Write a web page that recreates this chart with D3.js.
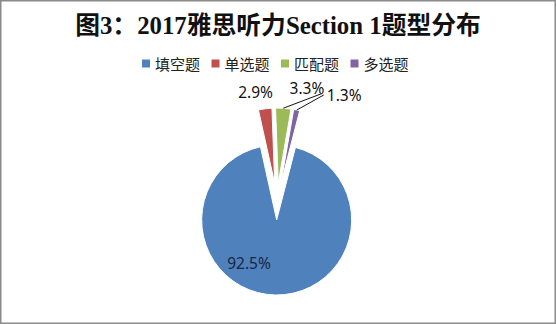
<!DOCTYPE html>
<html>
<head>
<meta charset="utf-8">
<script src="https://cdn.jsdelivr.net/npm/d3@7"></script>
<style>
  html, body { margin: 0; padding: 0; background: #fff; }
  svg { display: block; }
</style>
</head>
<body>
<div id="chartdiv"></div>
<script>
// data
var categories = ["填空题", "单选题", "匹配题", "多选题"];
var values = [92.5, 2.9, 3.3, 1.3];
var colors = ["#4F81BD", "#C0504D", "#9BBB59", "#8064A2"];
var titleText = "图3：2017雅思听力Section 1题型分布";

// layout
var W = 556, H = 324;
var cx = 277, cy = 201.5, radius = 75, explode = 18.5;
var startDeg = 14.5;
var labelRadius = 110;
// nudges for the data labels (Excel moved them around by hand)
var labelShift = [[-27, 6], [-7.5, 0], [22.5, -4], [44, 1]];
var leaderFor = [false, false, true, true];

var svg = d3.select("#chartdiv").append("svg")
    .attr("width", W)
    .attr("height", H);

svg.append("rect")
    .attr("x", 0.75).attr("y", 0.75)
    .attr("width", W - 1.5).attr("height", H - 1.5)
    .attr("fill", "#fff")
    .attr("stroke", "#8a8a8a")
    .attr("stroke-width", 1.5);

// title
svg.append("text")
    .attr("x", 278)
    .attr("y", 25)
    .attr("text-anchor", "middle")
    .attr("dominant-baseline", "central")
    .style("font-family", "'Liberation Serif', 'DejaVu Serif', 'Noto Sans CJK SC', serif")
    .style("font-weight", "bold")
    .style("font-size", "24.8px")
    .attr("fill", "#111")
    .text(titleText);

// legend
var legendY = 63.5, legendX0 = 142, itemStep = 69.5;
var legend = svg.append("g").attr("class", "legend");
categories.forEach(function(c, i) {
    var g = legend.append("g")
        .attr("transform", "translate(" + (legendX0 + i * itemStep) + "," + legendY + ")");
    g.append("rect")
        .attr("x", 0).attr("y", -4)
        .attr("width", 8).attr("height", 8)
        .attr("fill", colors[i]);
    g.append("text")
        .attr("x", 13).attr("y", 0)
        .attr("dominant-baseline", "central")
        .style("font-family", "'Noto Sans CJK SC', sans-serif")
        .style("font-size", "15px")
        .attr("fill", "#222")
        .text(c);
});

// pie
var pie = d3.pie()
    .sort(null)
    .value(function(d) { return d; })
    .startAngle(startDeg * Math.PI / 180)
    .endAngle(startDeg * Math.PI / 180 + 2 * Math.PI);

var arc = d3.arc().innerRadius(0).outerRadius(radius);
var arcs = pie(values);

function mid(d) { return (d.startAngle + d.endAngle) / 2; }

var pieG = svg.append("g").attr("transform", "translate(" + cx + "," + cy + ")");

pieG.selectAll("path.slice")
    .data(arcs)
    .enter()
    .append("path")
    .attr("class", "slice")
    .attr("transform", function(d) {
        var a = mid(d);
        return "translate(" + (explode * Math.sin(a)) + "," + (-explode * Math.cos(a)) + ")";
    })
    .attr("d", arc)
    .attr("fill", function(d, i) { return colors[i]; })
    .attr("stroke", "#fff")
    .attr("stroke-width", 1);

// data labels
arcs.forEach(function(d, i) {
    var a = mid(d), lx, ly;
    if (i === 0) {
        var c = arc.centroid(d);
        lx = c[0] + explode * Math.sin(a);
        ly = c[1] - explode * Math.cos(a);
    } else {
        lx = labelRadius * Math.sin(a);
        ly = -labelRadius * Math.cos(a);
    }
    lx += labelShift[i][0];
    ly += labelShift[i][1];

    var t = pieG.append("text")
        .attr("x", lx).attr("y", ly)
        .attr("text-anchor", "middle")
        .attr("dominant-baseline", "central")
        .style("font-family", "'Noto Sans', 'Liberation Sans', sans-serif")
        .style("font-size", "15.5px")
        .attr("fill", i === 0 ? "#1a2640" : "#111")
        .text(values[i].toFixed(1) + "%");

    if (leaderFor[i]) {
        var bb = t.node().getBBox();
        var sx = (explode + radius) * Math.sin(a);
        var sy = -(explode + radius) * Math.cos(a);
        var ex = i === 2 ? bb.x + bb.width - 3 : bb.x - 3;
        var ey = i === 2 ? bb.y + bb.height - 5 : bb.y + bb.height / 2;
        pieG.append("line")
            .attr("x1", sx).attr("y1", sy)
            .attr("x2", ex).attr("y2", ey)
            .attr("stroke", "#111")
            .attr("stroke-width", 1);
    }
});
</script>
</body>
</html>
